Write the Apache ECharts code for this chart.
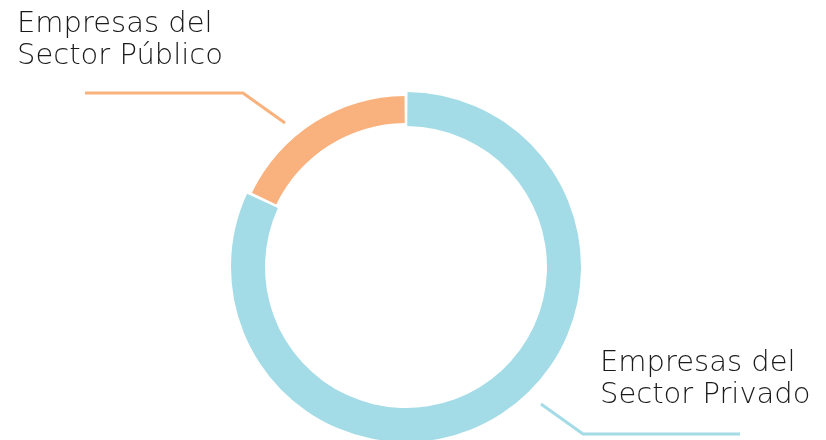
<!DOCTYPE html>
<html>
<head>
<meta charset="utf-8">
<script src="https://cdn.jsdelivr.net/npm/echarts@6/dist/echarts.min.js"></script>
<style>
  html, body { margin: 0; padding: 0; background: #fff; }
  #chart { width: 826px; height: 440px; }
</style>
</head>
<body>
<div id="chart"></div>
<script>
// datos: reparto de empresas por sector
var sectores = ['Empresas del\nSector Privado', 'Empresas del\nSector Público'];
var valores = [82, 18];
var colores = ['#a3dce6', '#f9b27e'];

var myChart = echarts.init(document.getElementById('chart'));

// cada anillo dibuja solo un sector, el otro queda transparente
function datosAnillo(idx) {
    return valores.map(function (v, i) {
        return {
            name: sectores[i],
            value: v,
            itemStyle: { color: i === idx ? colores[i] : 'transparent' },
            label: { show: i === idx },
            labelLine: { show: i === idx, lineStyle: { color: colores[i], width: 3 } }
        };
    });
}

var labelBase = {
    formatter: '{b}',
    color: '#1a1a1a',
    fontFamily: '"DejaVu Sans ExtraLight", "DejaVu Sans", sans-serif',
    fontWeight: 200,
    fontSize: 29,
    lineHeight: 32,
    align: 'left'
};

var option = {
    animation: false,
    series: [
        {
            name: 'privado',
            type: 'pie',
            center: [406, 267],
            radius: [141, 175],
            startAngle: 90,
            padAngle: 1,
            silent: true,
            label: labelBase,
            data: datosAnillo(0),
            labelLayout: function () {
                return {
                    x: 600, y: 347, align: 'left', verticalAlign: 'top',
                    labelLinePoints: [[541, 404], [583, 434], [740, 434]]
                };
            }
        },
        {
            name: 'publico',
            type: 'pie',
            center: [406, 267],
            radius: [144, 171],
            startAngle: 90,
            padAngle: 1,
            silent: true,
            label: labelBase,
            data: datosAnillo(1),
            labelLayout: function () {
                return {
                    x: 17, y: 8, align: 'left', verticalAlign: 'top',
                    labelLinePoints: [[285, 123], [243, 93], [85, 93]]
                };
            }
        }
    ]
};
myChart.setOption(option);
</script>
</body>
</html>
